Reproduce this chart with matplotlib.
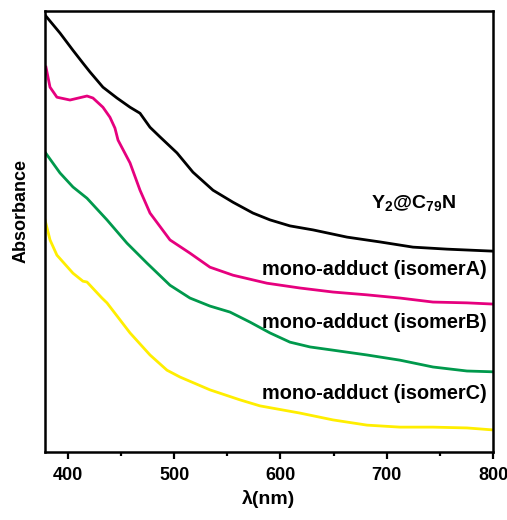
import matplotlib
matplotlib.use('Agg')
import matplotlib.pyplot as plt

plt.rcParams['font.family'] = ['Liberation Sans', 'DejaVu Sans']
plt.rcParams['mathtext.fontset'] = 'custom'
plt.rcParams['mathtext.rm'] = 'Liberation Sans'
plt.rcParams['mathtext.bf'] = 'Liberation Sans:bold'
plt.rcParams['lines.solid_joinstyle'] = 'round'

# wavelength (nm) / absorbance (a.u.)
wl_y2 = [378.4, 392.5, 404.7, 414.1, 420.7, 432.9, 446.1, 458.4, 467.8, 477.2, 486.6, 502.6,
         517.6, 536.5, 555.3, 574.1, 590.1, 608.9, 630.6, 662.6, 693.6, 724.7, 756.7, 800]
abs_y2 = [1.090, 1.045, 1.002, 0.970, 0.948, 0.910, 0.883, 0.860, 0.845, 0.810, 0.786, 0.746,
          0.698, 0.653, 0.623, 0.596, 0.579, 0.564, 0.554, 0.536, 0.524, 0.511, 0.506, 0.501]

wl_a = [379.3, 383.1, 389.6, 401.9, 417.9, 423.5, 432.9, 439.5, 444.2, 447.1, 458.4, 467.8,
        477.2, 496.0, 514.8, 533.6, 555.3, 587.3, 618.4, 649.4, 681.4, 712.5, 743.5, 775.5, 800]
abs_a = [0.960, 0.910, 0.885, 0.878, 0.888, 0.883, 0.860, 0.835, 0.808, 0.778, 0.721, 0.653,
         0.596, 0.529, 0.496, 0.461, 0.441, 0.421, 0.409, 0.399, 0.392, 0.384, 0.374, 0.372,
         0.369]

wl_b = [378.4, 392.5, 404.7, 417.9, 436.7, 455.5, 474.4, 496.0, 514.8, 533.6, 552.5, 571.3,
        590.1, 608.9, 627.8, 649.4, 681.4, 712.5, 743.5, 775.5, 800]
abs_b = [0.748, 0.696, 0.661, 0.633, 0.579, 0.521, 0.471, 0.416, 0.384, 0.364, 0.349, 0.324,
         0.297, 0.274, 0.262, 0.254, 0.242, 0.229, 0.212, 0.202, 0.200]

wl_c = [378.4, 383.1, 389.6, 395.3, 404.7, 414.1, 417.9, 432.0, 436.7, 458.4, 477.2, 493.2,
        505.4, 533.6, 561.9, 580.7, 618.4, 649.4, 681.4, 712.5, 743.5, 775.5, 800]
abs_c = [0.579, 0.529, 0.491, 0.474, 0.446, 0.426, 0.424, 0.384, 0.372, 0.297, 0.242, 0.204,
         0.187, 0.155, 0.130, 0.115, 0.097, 0.080, 0.067, 0.062, 0.062, 0.060, 0.055]

fig = plt.figure(figsize=(5.07, 5.20), dpi=100)
ax = fig.add_axes([0.0888, 0.1308, 0.8836, 0.848])

ax.plot(wl_y2, abs_y2, color='black', lw=2)
ax.plot(wl_a, abs_a, color='#e6007e', lw=2)
ax.plot(wl_b, abs_b, color='#00994c', lw=2)
ax.plot(wl_c, abs_c, color='#ffee00', lw=2)

ax.set_xlim(378.4, 800)
ax.set_ylim(0, 1.1)

# curve labels
ax.text(765, 0.608, r'$\mathbf{Y_2@C_{79}N}$', ha='right', va='baseline', fontsize=14)
ax.text(794, 0.454, 'mono-adduct (isomerA)', ha='right', va='center', fontsize=14.3, fontweight='bold')
ax.text(794, 0.324, 'mono-adduct (isomerB)', ha='right', va='center', fontsize=14.3, fontweight='bold')
ax.text(794, 0.147, 'mono-adduct (isomerC)', ha='right', va='center', fontsize=14.3, fontweight='bold')

ax.set_xticks([400, 500, 600, 700, 800])
ax.set_xticks([450, 550, 650, 750], minor=True)
ax.set_yticks([])
ax.tick_params(axis='x', which='major', direction='out', length=5, width=1.6, pad=6, labelsize=13)
ax.tick_params(axis='x', which='minor', direction='out', length=3, width=1.6)
for lbl in ax.get_xticklabels():
    lbl.set_fontweight('bold')
for sp in ax.spines.values():
    sp.set_linewidth(1.8)

ax.set_xlabel('λ(nm)', fontsize=14, fontweight='bold', labelpad=4)
ax.set_ylabel('Absorbance', fontsize=13, fontweight='bold')
ax.yaxis.set_label_coords(-0.035, 0.546)

plt.savefig('out.png', dpi=100)
